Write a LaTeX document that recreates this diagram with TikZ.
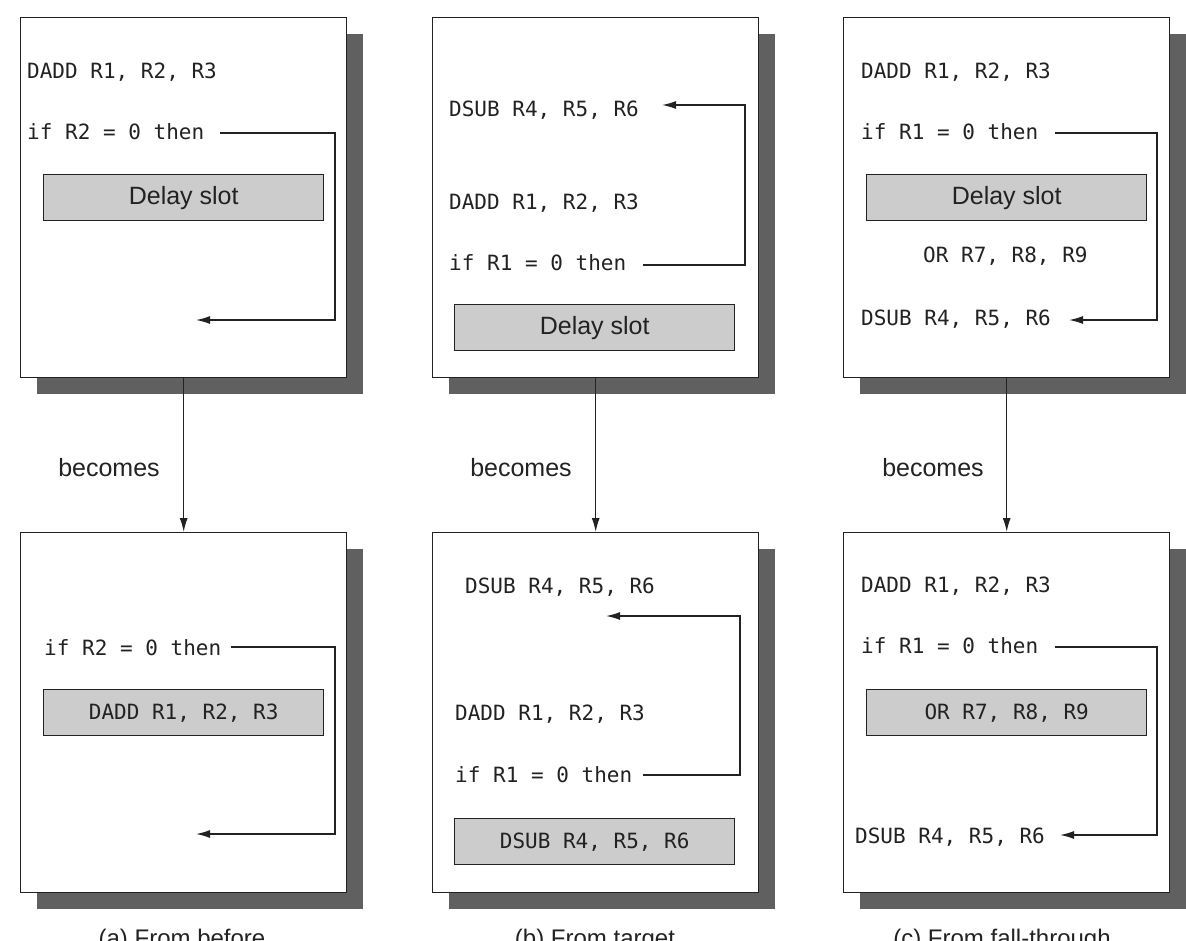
\documentclass[tikz,border=0pt]{standalone}
\usepackage{fontspec}
\setmainfont{Liberation Sans}
\newfontfamily\codefont{DejaVu Sans Mono}
\usetikzlibrary{arrows.meta}
\definecolor{shadowc}{HTML}{606060}
\definecolor{slotc}{HTML}{CCCCCC}
\definecolor{inkc}{HTML}{222222}
\begin{document}
\begin{tikzpicture}[x=1pt,y=-1pt,
  panel/.style={draw=inkc, line width=1.4pt, fill=white, minimum width=326pt, minimum height=360pt, anchor=north west, inner sep=0pt},
  shadowbox/.style={fill=shadowc},
  slot/.style={draw=inkc, line width=1.4pt, fill=slotc, minimum width=280pt, minimum height=46pt, anchor=north west, inner sep=0pt, text=inkc},
  code/.style={font=\codefont\fontsize{21}{24}\selectfont, inner sep=0pt, anchor=base west, text=inkc},
  sans/.style={font=\fontsize{25}{30}\selectfont, text=inkc},
  captext/.style={font=\fontsize{24}{28}\selectfont, text=inkc, anchor=base, inner sep=0pt},
  conn/.style={draw=inkc, line width=1.4pt, -{Latex[length=14pt,width=8pt]}},
  flow/.style={draw=inkc, line width=1.4pt, -{Latex[length=14pt,width=8pt]}}
]
\useasboundingbox (0,0) rectangle (1186,940);
\fill[white] (0,0) rectangle (1186,940);

% ---------- shadows ----------
\fill[shadowbox] (37,34) rectangle (363,394);
\fill[shadowbox] (449,34) rectangle (775,394);
\fill[shadowbox] (860,34) rectangle (1186,394);
\fill[shadowbox] (37,549) rectangle (363,909);
\fill[shadowbox] (449,549) rectangle (775,909);
\fill[shadowbox] (860,549) rectangle (1186,909);

% ---------- panels ----------
\node[panel] (pa) at (20,17) {};
\node[panel] (pb) at (432,17) {};
\node[panel] (pc) at (843,17) {};
\node[panel] (qa) at (20,532) {};
\node[panel] (qb) at (432,532) {};
\node[panel] (qc) at (843,532) {};

% ---------- (a) top ----------
\node[code] (a1) at (27,78) {DADD R1, R2, R3};
\node[code] (a2) at (27,139) {if R2 = 0 then};
\node[slot, font=\fontsize{25}{30}\selectfont] (as) at (43,174) {Delay slot};
\coordinate (a2s) at (220,133);
\coordinate (a2t) at (196,320);
\draw[conn] (a2s) -- (335,133) -- (335,320) -- (a2t);

% ---------- (b) top ----------
\node[code] (b1) at (449,116) {DSUB R4, R5, R6};
\node[code] (b2) at (449,209) {DADD R1, R2, R3};
\node[code] (b3) at (449,270) {if R1 = 0 then};
\node[slot, font=\fontsize{25}{30}\selectfont] (bs) at (454,304) {Delay slot};
\coordinate (b3s) at (643,265);
\coordinate (b1t) at (662,105);
\draw[conn] (b3s) -- (745,265) -- (745,105) -- (b1t);

% ---------- (c) top ----------
\node[code] (c1) at (861,78) {DADD R1, R2, R3};
\node[code] (c2) at (861,139) {if R1 = 0 then};
\node[slot, font=\fontsize{25}{30}\selectfont] (cs) at (866,174) {Delay slot};
\node[code] (c3) at (923,262) {OR R7, R8, R9};
\node[code] (c4) at (861,325) {DSUB R4, R5, R6};
\coordinate (c2s) at (1055,133);
\coordinate (c4t) at (1069,320);
\draw[conn] (c2s) -- (1157,133) -- (1157,320) -- (c4t);

% ---------- becomes ----------
\draw[flow] (pa.south) -- (qa.north);
\draw[flow] (pb.south) -- (qb.north);
\draw[flow] (pc.south) -- (qc.north);
\node[sans, anchor=base, inner sep=0pt] (ba) at (109,476) {becomes};
\node[sans, anchor=base, inner sep=0pt] (bb) at (521,476) {becomes};
\node[sans, anchor=base, inner sep=0pt] (bc) at (933,476) {becomes};

% ---------- (a) bottom ----------
\node[code] (d1) at (44,655) {if R2 = 0 then};
\node[slot, font=\codefont\fontsize{21}{24}\selectfont] (ds) at (43,689) {DADD R1, R2, R3};
\coordinate (d1s) at (231,647);
\coordinate (d1t) at (196,834);
\draw[conn] (d1s) -- (335,647) -- (335,834) -- (d1t);

% ---------- (b) bottom ----------
\node[code] (e1) at (465,593) {DSUB R4, R5, R6};
\node[code] (e2) at (455,720) {DADD R1, R2, R3};
\node[code] (e3) at (455,782) {if R1 = 0 then};
\node[slot, font=\codefont\fontsize{21}{24}\selectfont] (es) at (454,818) {DSUB R4, R5, R6};
\coordinate (e3s) at (643,775);
\coordinate (e1t) at (606,616);
\draw[conn] (e3s) -- (740,775) -- (740,616) -- (e1t);

% ---------- (c) bottom ----------
\node[code] (f1) at (861,592) {DADD R1, R2, R3};
\node[code] (f2) at (861,653) {if R1 = 0 then};
\node[slot, font=\codefont\fontsize{21}{24}\selectfont] (fs) at (866,689) {OR R7, R8, R9};
\node[code] (f3) at (855,843) {DSUB R4, R5, R6};
\coordinate (f2s) at (1055,647);
\coordinate (f3t) at (1060,835);
\draw[conn] (f2s) -- (1157,647) -- (1157,835) -- (f3t);

% ---------- captions ----------
\node[captext] (ka) at (182,946) {(a) From before};
\node[captext] (kb) at (595,946) {(b) From target};
\node[captext] (kc) at (1002,946) {(c) From fall-through};
\end{tikzpicture}
\end{document}
